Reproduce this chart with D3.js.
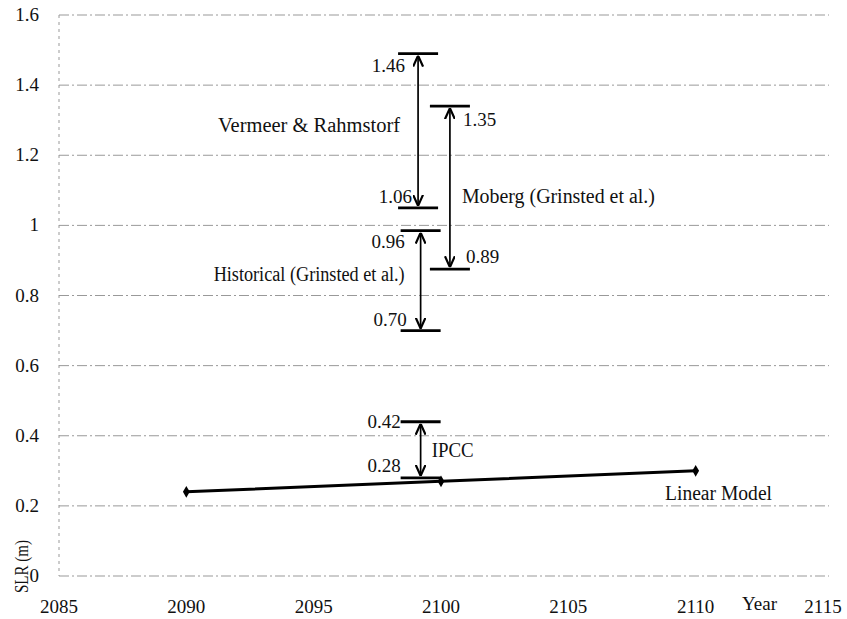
<!DOCTYPE html>
<html>
<head>
<meta charset="utf-8">
<script src="https://cdn.jsdelivr.net/npm/d3@7"></script>
<style>
  body { margin: 0; background: #fff; }
  text { font-family: "Liberation Serif", "Times New Roman", serif; fill: #111; }
</style>
</head>
<body>
<div class="chart"></div>
<script>
// ---------------------------------- DATA
var yearTicks = [2085, 2090, 2095, 2100, 2105, 2110, 2115];
var slrTicks = [0, 0.2, 0.4, 0.6, 0.8, 1, 1.2, 1.4, 1.6];
var slrTickLabels = ["0", "0.2", "0.4", "0.6", "0.8", "1", "1.2", "1.4", "1.6"];

// linear model series
var linearYears = [2090, 2100, 2110];
var linearSlr = [0.24, 0.27, 0.30];

// projected ranges (drawn as double arrows)
var rangeNames = ["Vermeer & Rahmstorf", "Moberg (Grinsted et al.)", "Historical (Grinsted et al.)", "IPCC"];
var rangeYears = [2099.1, 2100.35, 2099.2, 2099.2];
var rangeHigh = [1.49, 1.34, 0.985, 0.44];
var rangeLow = [1.05, 0.875, 0.70, 0.28];
var highLabels = ["1.46", "1.35", "0.96", "0.42"];
var lowLabels = ["1.06", "0.89", "0.70", "0.28"];

// ---------------------------------- SCALES
var width = 847, height = 619;
var svg = d3.select(".chart").append("svg")
  .attr("width", width)
  .attr("height", height);

var x = d3.scaleLinear().domain([2085, 2115]).range([59, 823]);
var y = d3.scaleLinear().domain([0, 1.6]).range([576, 15]);

// ---------------------------------- GRID
svg.append("g").selectAll("line")
  .data(slrTicks)
  .enter().append("line")
    .attr("x1", x(2085)).attr("x2", 829)
    .attr("y1", function(d){ return y(d); })
    .attr("y2", function(d){ return y(d); })
    .attr("stroke", "#999")
    .attr("stroke-width", 1)
    .attr("stroke-dasharray", "10,3,2,3");

// left axis line (dashed too)
svg.append("line")
  .attr("x1", x(2085)).attr("x2", x(2085))
  .attr("y1", y(1.6)).attr("y2", y(0))
  .attr("stroke", "#999")
  .attr("stroke-dasharray", "3,4");

// y tick labels
svg.append("g").selectAll("text")
  .data(slrTicks)
  .enter().append("text")
    .attr("x", 39)
    .attr("y", function(d){ return y(d) + 6; })
    .attr("text-anchor", "end")
    .attr("font-size", 19)
    .text(function(d, i){ return slrTickLabels[i]; });

// x tick labels
svg.append("g").selectAll("text")
  .data(yearTicks)
  .enter().append("text")
    .attr("x", function(d){ return x(d); })
    .attr("y", 613)
    .attr("text-anchor", "middle")
    .attr("font-size", 19)
    .text(function(d){ return d; });

svg.append("text")
  .attr("x", 742).attr("y", 610)
  .attr("font-size", 19)
  .text("Year");

svg.append("text")
  .attr("transform", "translate(28,593) rotate(-90)")
  .attr("font-size", 19)
  .attr("textLength", 53)
  .attr("lengthAdjust", "spacingAndGlyphs")
  .text("SLR (m)");

// ---------------------------------- LINEAR MODEL
var linePts = linearYears.map(function(d, i){ return [d, linearSlr[i]]; });
var line = d3.line()
  .x(function(d){ return x(d[0]); })
  .y(function(d){ return y(d[1]); });

svg.append("path")
  .attr("d", line(linePts))
  .attr("fill", "none")
  .attr("stroke", "#000")
  .attr("stroke-width", 3);

svg.append("g").selectAll("path")
  .data(linePts)
  .enter().append("path")
    .attr("d", d3.symbol().type(d3.symbolDiamond).size(40))
    .attr("transform", function(d){ return "translate(" + x(d[0]) + "," + y(d[1]) + ")"; })
    .attr("fill", "#000");

svg.append("text")
  .attr("x", 665).attr("y", 500)
  .attr("font-size", 20)
  .attr("textLength", 107)
  .attr("lengthAdjust", "spacingAndGlyphs")
  .text("Linear Model");

// ---------------------------------- RANGES
var defs = svg.append("defs");
defs.append("marker")
  .attr("id", "arrow")
  .attr("viewBox", "0 -5 10 10")
  .attr("refX", 10).attr("refY", 0)
  .attr("markerWidth", 11).attr("markerHeight", 11)
  .attr("markerUnits", "userSpaceOnUse")
  .attr("orient", "auto-start-reverse")
  .append("path")
    .attr("d", "M0,-4.5L10,0L0,4.5")
    .attr("fill", "none")
    .attr("stroke", "#000")
    .attr("stroke-width", 2);

var ranges = rangeNames.map(function(n, i){
  return { name: n, year: rangeYears[i], hi: rangeHigh[i], lo: rangeLow[i],
           hiLabel: highLabels[i], loLabel: lowLabels[i] };
});

var rg = svg.append("g").selectAll("g")
  .data(ranges)
  .enter().append("g");

// caps
rg.append("line")
  .attr("x1", function(d){ return x(d.year) - 20; })
  .attr("x2", function(d){ return x(d.year) + 20; })
  .attr("y1", function(d){ return y(d.hi); })
  .attr("y2", function(d){ return y(d.hi); })
  .attr("stroke", "#000").attr("stroke-width", 2.8);
rg.append("line")
  .attr("x1", function(d){ return x(d.year) - 20; })
  .attr("x2", function(d){ return x(d.year) + 20; })
  .attr("y1", function(d){ return y(d.lo); })
  .attr("y2", function(d){ return y(d.lo); })
  .attr("stroke", "#000").attr("stroke-width", 2.8);

// double arrow
rg.append("line")
  .attr("x1", function(d){ return x(d.year); })
  .attr("x2", function(d){ return x(d.year); })
  .attr("y1", function(d){ return y(d.hi) + 2; })
  .attr("y2", function(d){ return y(d.lo) - 2; })
  .attr("stroke", "#000").attr("stroke-width", 1.7)
  .attr("marker-start", "url(#arrow)")
  .attr("marker-end", "url(#arrow)");

// label offsets relative to the arrow (layout only)
var hiOff = [[-13, 18, "end"], [13, 20, "start"], [-16, 17, "end"], [-20, 6, "end"]];
var loOff = [[-6, -5, "end"], [16, -6, "start"], [-14, -5, "end"], [-20, -6, "end"]];
var nameOff = [[-18, 132, "end", 182], [12, 203, "start", 193], [-16, 281, "end", 191], [11, 457, "start", 42]];

rg.append("text")
  .attr("x", function(d, i){ return x(d.year) + hiOff[i][0]; })
  .attr("y", function(d, i){ return y(d.hi) + hiOff[i][1]; })
  .attr("text-anchor", function(d, i){ return hiOff[i][2]; })
  .attr("font-size", 19)
  .text(function(d){ return d.hiLabel; });

rg.append("text")
  .attr("x", function(d, i){ return x(d.year) + loOff[i][0]; })
  .attr("y", function(d, i){ return y(d.lo) + loOff[i][1]; })
  .attr("text-anchor", function(d, i){ return loOff[i][2]; })
  .attr("font-size", 19)
  .text(function(d){ return d.loLabel; });

rg.append("text")
  .attr("x", function(d, i){ return x(d.year) + nameOff[i][0]; })
  .attr("y", function(d, i){ return nameOff[i][1]; })
  .attr("text-anchor", function(d, i){ return nameOff[i][2]; })
  .attr("font-size", 20)
  .attr("textLength", function(d, i){ return nameOff[i][3]; })
  .attr("lengthAdjust", "spacingAndGlyphs")
  .text(function(d){ return d.name; });
</script>
</body>
</html>
